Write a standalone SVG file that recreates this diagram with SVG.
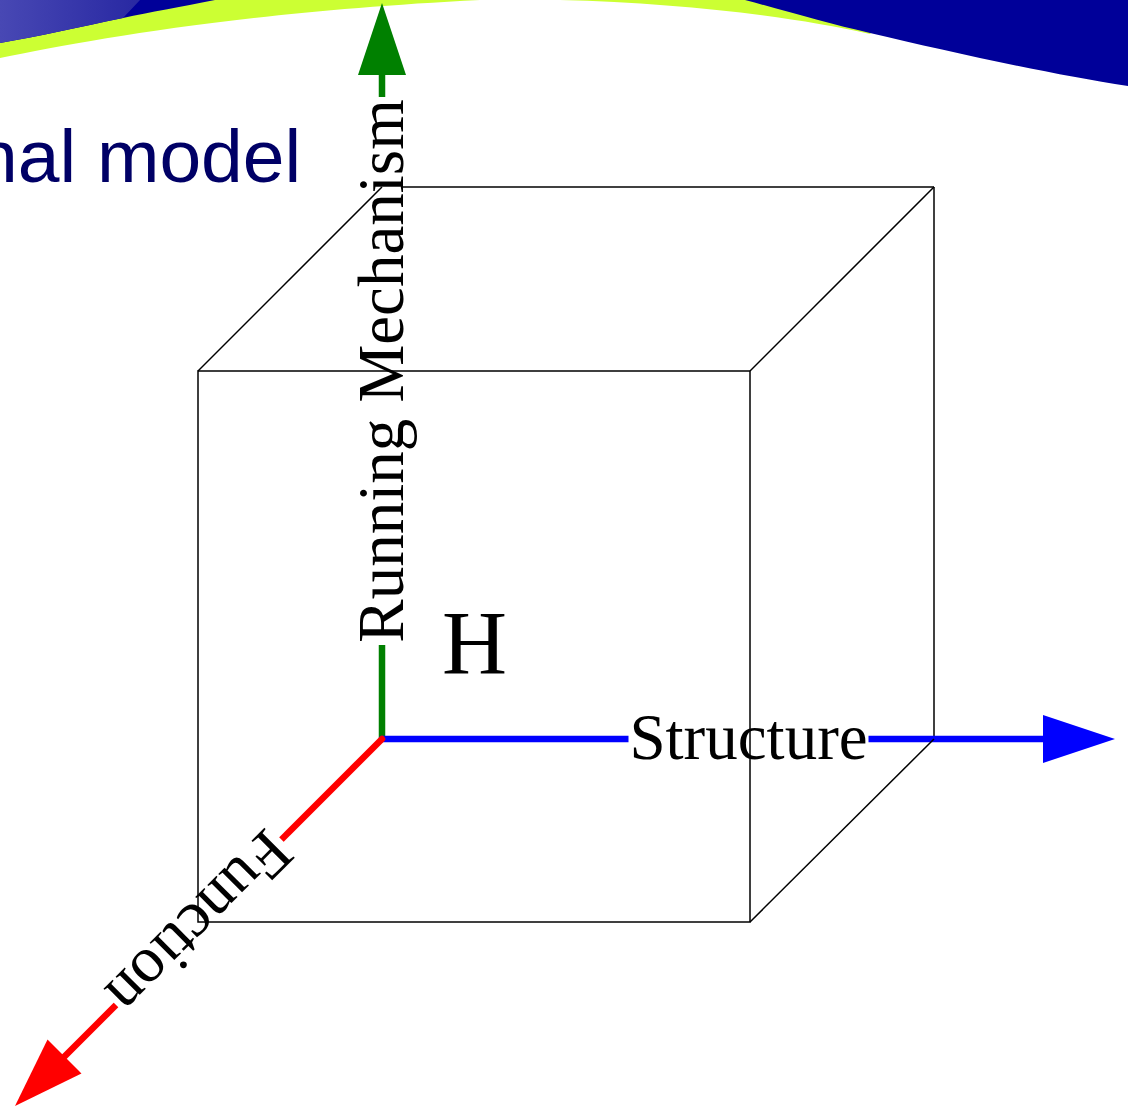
<svg xmlns="http://www.w3.org/2000/svg" width="1128" height="1106" viewBox="0 0 1128 1106">
<defs>
<style>
.edge{fill:none;stroke:#000;stroke-width:1.5}
.axis{fill:none;stroke-width:6.5;stroke-linecap:round}
.lbl{font-family:"Liberation Serif","Times New Roman",serif;font-size:65px;fill:#000;text-anchor:middle}
.bg{fill:#fff}
</style>
<linearGradient id="gl" x1="0" y1="0" x2="140" y2="0" gradientUnits="userSpaceOnUse">
<stop offset="0" stop-color="#4848b4"/>
<stop offset="1" stop-color="#2828a2"/>
</linearGradient>
<marker id="ag" markerUnits="userSpaceOnUse" markerWidth="72" markerHeight="48" refX="0" refY="24" orient="auto" overflow="visible"><path d="M0,0 L72,24 L0,48 Z" fill="#008000"/></marker>
<marker id="ab" markerUnits="userSpaceOnUse" markerWidth="72" markerHeight="48" refX="0" refY="24" orient="auto" overflow="visible"><path d="M0,0 L72,24 L0,48 Z" fill="#0000ff"/></marker>
<marker id="ar" markerUnits="userSpaceOnUse" markerWidth="72" markerHeight="48" refX="0" refY="24" orient="auto" overflow="visible"><path d="M0,0 L70,24 L0,48 Z" fill="#ff0000"/></marker>
</defs>
<rect width="1128" height="1106" fill="#fff"/>
<g id="banner">
<path d="M0,0 L0,58 C90,40 240,12 480,0 Z" fill="#ccff33"/>
<path d="M560,0 C680,3 790,16 870,34 L900,0 Z" fill="#ccff33"/>
<path d="M0,0 L215,0 C180,7 150,12 123,18 C80,27 40,36 0,43 Z" fill="#000099"/>
<path d="M0,0 L140,0 L123,18 C80,27 40,36 0,43 Z" fill="url(#gl)"/>
<path d="M745,0 C790,12 830,24 870,33 C950,52 1050,74 1128,86 L1128,0 Z" fill="#000099"/>
</g>
<g id="title">
<text x="-24" y="182" font-family="'Liberation Sans',Arial,sans-serif" font-size="75" fill="#000066">nal model</text>
</g>
<g id="cube-back">
<line class="edge" x1="382" y1="187" x2="934" y2="187"/>
<line class="edge" x1="934" y1="187" x2="934" y2="739"/>
<line class="edge" x1="382" y1="187" x2="382" y2="739"/>
<line class="edge" x1="382" y1="739" x2="934" y2="739"/>
<line class="edge" x1="198" y1="922" x2="382" y2="739"/>
</g>
<g id="connectors">
<line class="axis" stroke="#008000" x1="382" y1="739" x2="382" y2="75" marker-end="url(#ag)"/>
<line class="axis" stroke="#0000ff" x1="382" y1="739" x2="1043" y2="739" marker-end="url(#ab)"/>
<line class="axis" stroke="#ff0000" x1="382" y1="739" x2="64.5" y2="1056.5" marker-end="url(#ar)"/>
</g>
<g id="label-mechanism" transform="translate(382,371) rotate(-90)">
<rect class="bg" x="-274" y="-20" width="548" height="40"/>
<text class="lbl" x="0" y="21">Running Mechanism</text>
</g>
<g id="label-structure" transform="translate(748.5,739)">
<rect class="bg" x="-120" y="-20" width="240" height="40"/>
<text class="lbl" x="0" y="20">Structure</text>
</g>
<g id="label-function" transform="translate(198.5,922) rotate(135)">
<rect class="bg" x="-117" y="-20" width="234" height="40"/>
<text class="lbl" x="0" y="20">Function</text>
</g>
<g id="node-H">
<text x="474.5" y="674" font-family="'Liberation Serif','Times New Roman',serif" font-size="90" text-anchor="middle" fill="#000">H</text>
</g>
<g id="cube-front">
<rect class="edge" x="198" y="371" width="552" height="551"/>
<line class="edge" x1="198" y1="371" x2="382" y2="187"/>
<line class="edge" x1="750" y1="371" x2="934" y2="187"/>
<line class="edge" x1="750" y1="922" x2="934" y2="739"/>
</g>
</svg>
